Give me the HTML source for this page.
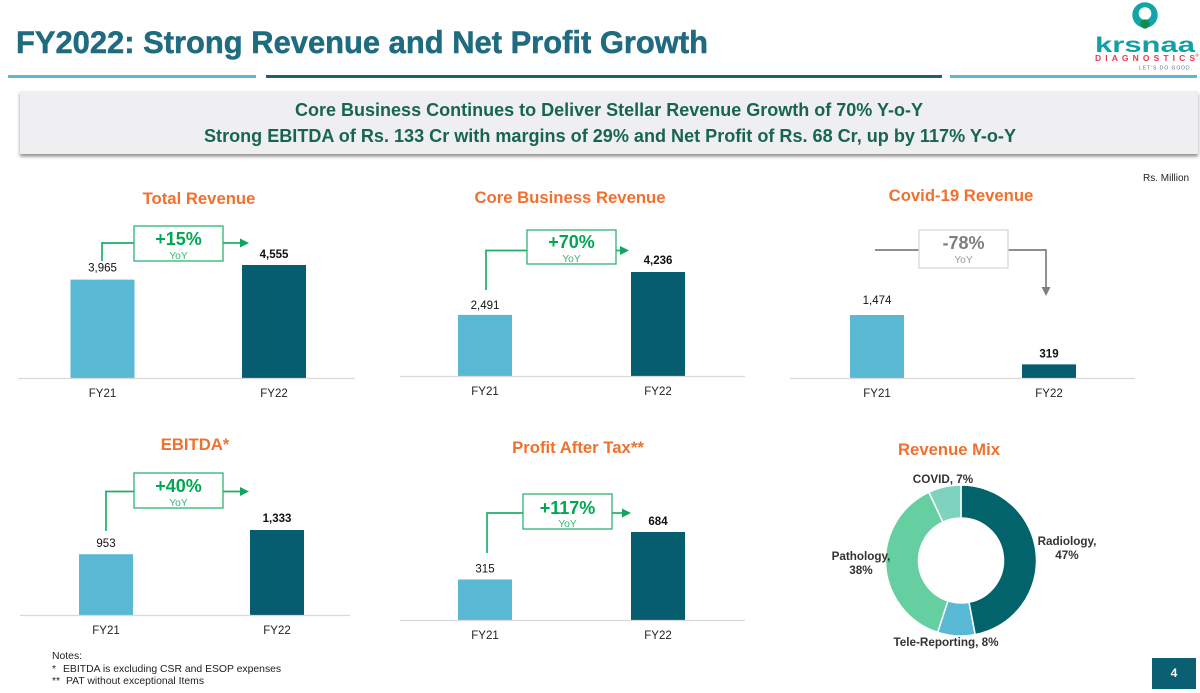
<!DOCTYPE html>
<html lang="en">
<head>
<meta charset="utf-8">
<title>FY2022: Strong Revenue and Net Profit Growth</title>
<style>
html,body{margin:0;padding:0;background:#fff;width:1200px;height:693px;overflow:hidden}
svg{display:block;font-family:"Liberation Sans",Arial,sans-serif}
</style>
</head>
<body>
<svg id="slide" width="1200" height="693" viewBox="0 0 1200 693" xmlns="http://www.w3.org/2000/svg">
  <defs>
    <filter id="banner-shadow" x="-2%" y="-20%" width="104%" height="150%">
      <feDropShadow dx="0" dy="2.5" stdDeviation="1.6" flood-color="#555" flood-opacity=".65"/>
    </filter>
  </defs>
  <text x="16" y="53" font-size="31.5" font-weight="700" fill="#1f6b80" stroke="#1f6b80" stroke-width=".5" textLength="692" lengthAdjust="spacingAndGlyphs">FY2022: Strong Revenue and Net Profit Growth</text>
  <rect x="8" y="75" width="248" height="3" fill="#5ab8d4"/>
  <rect x="266" y="75" width="676" height="3" fill="#1f5f76"/>
  <rect x="950" y="75" width="247" height="3" fill="#5ab8d4"/>

  <g>
    <circle cx="1145" cy="15" r="12.7" fill="#12a5a8"/>
    <circle cx="1145" cy="13.5" r="6.3" fill="#fff"/>
    <circle cx="1145" cy="24" r="4.6" fill="#12894f"/>
    <text x="1095" y="52" font-size="21" font-weight="700" fill="#12a0a6" textLength="100" lengthAdjust="spacingAndGlyphs">krsnaa</text>
    <text x="1095" y="61" font-size="8.5" font-weight="700" fill="#e8384f" textLength="100">DIAGNOSTICS</text>
    <text x="1195.5" y="57" font-size="4.5" fill="#555">®</text>
    <text x="1139" y="69.5" font-size="5" fill="#5a6f8a" textLength="53">LET'S DO GOOD.</text>
  </g>

  <g>
    <rect x="20" y="91" width="1178" height="63" fill="#efeff1" filter="url(#banner-shadow)"/>
    <text x="609" y="116" text-anchor="middle" font-size="18.2" font-weight="700" fill="#17654f" textLength="628" lengthAdjust="spacingAndGlyphs">Core Business Continues to Deliver Stellar Revenue Growth of 70% Y-o-Y</text>
    <text x="610" y="142" text-anchor="middle" font-size="18.2" font-weight="700" fill="#17654f" textLength="812" lengthAdjust="spacingAndGlyphs">Strong EBITDA of Rs. 133 Cr with margins of 29% and Net Profit of Rs. 68 Cr, up by 117% Y-o-Y</text>
  </g>

  <text x="1143" y="181" font-size="10" fill="#222">Rs. Million</text>

  <g id="charts"></g>

  <g id="donut"></g>

  <g font-size="10.4" fill="#222">
    <text x="52" y="659">Notes:</text>
    <text x="52" y="672">*</text>
    <text x="63" y="672">EBITDA is excluding CSR and ESOP expenses</text>
    <text x="52" y="684">**</text>
    <text x="66" y="684">PAT without exceptional Items</text>
  </g>

  <rect x="1152" y="658" width="44" height="31" fill="#0a5f73"/>
  <text x="1174" y="677" text-anchor="middle" font-size="12" font-weight="700" fill="#fff">4</text>
</svg>

<script>
var categories = ['FY21', 'FY22'];
var totalRevenueValues = [3965, 4555];
var coreRevenueValues = [2491, 4236];
var covidRevenueValues = [1474, 319];
var ebitdaValues = [953, 1333];
var patValues = [315, 684];
var totalRevenueChange = '+15%';
var coreRevenueChange = '+70%';
var covidRevenueChange = '-78%';
var ebitdaChange = '+40%';
var patChange = '+117%';
var mixNames = ['Radiology', 'Tele-Reporting', 'Pathology', 'COVID'];
var mixShares = [47, 8, 38, 7];

var NS = 'http://www.w3.org/2000/svg';
var LIGHT = '#59b8d3', DARK = '#075d70', ORANGE = '#f0702e';
var GREEN = '#00a651', GREEN_BORDER = '#2eb374', GREY = '#7f7f7f', GREY_BORDER = '#d9d9d9';

function mk(parent, tag, props, content) {
  var el = document.createElementNS(NS, tag);
  for (var k in props) { el.setAttribute(k, props[k]); }
  if (content !== undefined) { el.textContent = content; }
  parent.appendChild(el);
  return el;
}

function fmt(v) { return String(v).replace(/\B(?=(\d{3})+$)/g, ','); }

function linearY(axisY, domainMax, pxMax) {
  return function (v) { return axisY - v / domainMax * pxMax; };
}

function drawChart(o) {
  var root = document.getElementById('charts');
  var g = mk(root, 'g', {});
  
  

  var title = mk(g, 'text', { x: o.titleX, y: o.titleY, 'text-anchor': 'middle', 'font-size': 16.7, 'font-weight': 700, fill: ORANGE }, o.title);
  
  

  var y = linearY(o.axisY, o.domainMax, o.pxMax);
  o.values.forEach(function (v, i) {
    var cx = o.centers[i];
    var top = y(v);
    var bar = mk(g, 'rect', { x: cx - o.barW / 2, y: top, width: o.barW, height: o.axisY - top, fill: i === 0 ? LIGHT : DARK });
    
    

    var val = mk(g, 'text', { x: cx, y: top - (i === 0 ? o.labelGap0 : o.labelGap1), 'text-anchor': 'middle', 'font-size': 11.5, 'font-weight': i === 1 ? 700 : 400, fill: '#111' }, fmt(v));
    
    

    var cat = mk(g, 'text', { x: cx, y: o.axisY + 19, 'text-anchor': 'middle', 'font-size': 11.5, fill: '#222' }, categories[i]);
    
    
  });

  var axis = mk(g, 'line', { x1: o.axisX1, x2: o.axisX2, y1: o.axisY + 0.5, y2: o.axisY + 0.5, stroke: '#d9d9d9', 'stroke-width': 1.2 });
  
  

  var c = o.callout;
  var col = c.down ? GREY : '#1fae68';
  var tip = c.down ? GREY : '#12a55f';
  var conn = mk(g, 'polyline', { points: c.inPoints, fill: 'none', stroke: col, 'stroke-width': 1.7 });
  
  

  var conn2 = mk(g, 'polyline', { points: c.outPoints, fill: 'none', stroke: col, 'stroke-width': 1.7 });
  
  

  var arrow = mk(g, 'polygon', { points: c.arrow, fill: tip });
  
  

  var box = mk(g, 'rect', { x: c.x, y: c.y, width: c.w, height: c.h, fill: '#fff', stroke: c.down ? GREY_BORDER : GREEN_BORDER, 'stroke-width': 1.3 });
  
  

  var pct = mk(g, 'text', { x: c.x + c.w / 2, y: c.y + c.pctDy, 'text-anchor': 'middle', 'font-size': 18, 'font-weight': 700, fill: c.down ? GREY : GREEN }, o.change);
  
  

  var yoy = mk(g, 'text', { x: c.x + c.w / 2, y: c.y + c.h - c.yoyUp, 'text-anchor': 'middle', 'font-size': 10.2, fill: c.down ? '#999' : '#2fb872' }, 'YoY');
  
  
}

drawChart({
  name: 'total-revenue', title: 'Total Revenue', titleX: 199, titleY: 204,
  values: totalRevenueValues, change: totalRevenueChange,
  centers: [102.5, 274], barW: 64, axisY: 378, domainMax: 4555, pxMax: 113,
  axisX1: 18, axisX2: 355, labelGap0: 8, labelGap1: 7,
  callout: { x: 134, y: 226, w: 89, h: 35, pctDy: 19, yoyUp: 2, inPoints: '102,261 102,243 134,243', outPoints: '223,243 241,243', arrow: '240,238.5 249,243 240,247.5' }
});
drawChart({
  name: 'core-revenue', title: 'Core Business Revenue', titleX: 570, titleY: 203,
  values: coreRevenueValues, change: coreRevenueChange,
  centers: [485, 658], barW: 54, axisY: 376, domainMax: 4236, pxMax: 104,
  axisX1: 400, axisX2: 745, labelGap0: 6, labelGap1: 8,
  callout: { x: 527, y: 230, w: 89, h: 34, pctDy: 18, yoyUp: 2, inPoints: '486,290 486,250.5 527,250.5', outPoints: '616,250.5 622,250.5', arrow: '620,246 629,250.5 620,255' }
});
drawChart({
  name: 'covid-revenue', title: 'Covid-19 Revenue', titleX: 961, titleY: 201,
  values: covidRevenueValues, change: covidRevenueChange,
  centers: [877, 1049], barW: 54, axisY: 378, domainMax: 1474, pxMax: 63,
  axisX1: 790, axisX2: 1135, labelGap0: 11, labelGap1: 7,
  callout: { down: true, x: 919, y: 230, w: 89, h: 38, pctDy: 19, yoyUp: 5, inPoints: '875,250 919,250', outPoints: '1008,250 1046,250 1046,288', arrow: '1041.5,287 1050.5,287 1046,296' }
});
drawChart({
  name: 'ebitda', title: 'EBITDA*', titleX: 195, titleY: 450,
  values: ebitdaValues, change: ebitdaChange,
  centers: [106, 277], barW: 54, axisY: 615, domainMax: 1333, pxMax: 85,
  axisX1: 20, axisX2: 350, labelGap0: 7, labelGap1: 8,
  callout: { x: 134, y: 473, w: 89, h: 35, pctDy: 19, yoyUp: 2, inPoints: '106,531 106,491.5 134,491.5', outPoints: '223,491.5 241,491.5', arrow: '240,487 249,491.5 240,496' }
});
drawChart({
  name: 'profit-after-tax', title: 'Profit After Tax**', titleX: 578, titleY: 453,
  values: patValues, change: patChange,
  centers: [485, 658], barW: 54, axisY: 620, domainMax: 684, pxMax: 88,
  axisX1: 400, axisX2: 745, labelGap0: 7, labelGap1: 7,
  callout: { x: 523, y: 494, w: 89, h: 35, pctDy: 20, yoyUp: 2, inPoints: '487,553 487,513 523,513', outPoints: '612,513 623,513', arrow: '622,508.5 631,513 622,517.5' }
});

var mixColors = ['#03636a', '#59b8d3', '#66cfa2', '#7dd3bd'];
var mixLabelLayout = [
  { x: 1067, y: 545, split: true },
  { x: 946, y: 646, split: false },
  { x: 861, y: 560, split: true },
  { x: 943, y: 483, split: false }
];

function polar(cx, cy, r, frac) {
  var a = frac * 2 * Math.PI;
  return [cx + r * Math.sin(a), cy - r * Math.cos(a)];
}

function drawDonut() {
  var g = document.getElementById('donut');
  var cx = 961, cy = 560.5, R = 75.5, r = 42.5;
  var title = mk(g, 'text', { x: 949, y: 455, 'text-anchor': 'middle', 'font-size': 16.7, 'font-weight': 700, fill: ORANGE }, 'Revenue Mix');
  
  

  var total = mixShares.reduce(function (a, b) { return a + b; }, 0);
  var acc = 0;
  mixShares.forEach(function (s, i) {
    var f0 = acc / total, f1 = (acc + s) / total;
    acc += s;
    var a = polar(cx, cy, R, f0), b = polar(cx, cy, R, f1), c = polar(cx, cy, r, f1), d = polar(cx, cy, r, f0);
    var large = f1 - f0 > 0.5 ? 1 : 0;
    var dStr = 'M' + a[0] + ' ' + a[1] + 'A' + R + ' ' + R + ' 0 ' + large + ' 1 ' + b[0] + ' ' + b[1] +
      'L' + c[0] + ' ' + c[1] + 'A' + r + ' ' + r + ' 0 ' + large + ' 0 ' + d[0] + ' ' + d[1] + 'Z';
    var slice = mk(g, 'path', { d: dStr, fill: mixColors[i], stroke: '#fff', 'stroke-width': 1.5 });
    
    
  });

  mixShares.forEach(function (s, i) {
    var p = mixLabelLayout[i];
    var attrs = { x: p.x, y: p.y, 'text-anchor': 'middle', 'font-size': 11.7, 'font-weight': 700, fill: '#333' };
    if (p.split) {
      var l1 = mk(g, 'text', attrs, mixNames[i] + ',');
      
      
      var l2 = mk(g, 'text', { x: p.x, y: p.y + 14, 'text-anchor': 'middle', 'font-size': 11.7, 'font-weight': 700, fill: '#333' }, s + '%');
      
      
    } else {
      var l = mk(g, 'text', attrs, mixNames[i] + ', ' + s + '%');
      
      
    }
  });
}
drawDonut();
</script>
</body>
</html>
